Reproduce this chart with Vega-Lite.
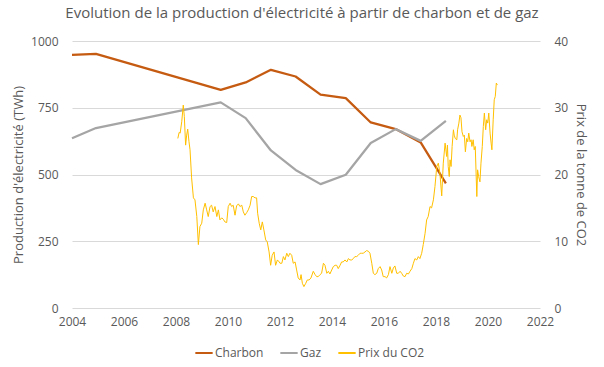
{
  "$schema": "https://vega.github.io/schema/vega-lite/v6.json",
  "autosize": {"type": "none"},
  "width": 468,
  "height": 267,
  "padding": {"left": 72, "top": 41, "right": 64, "bottom": 59},
  "background": "white",
  "title": {
    "text": "Evolution de la production d'électricité à partir de charbon et de gaz",
    "font": "Open Sans",
    "fontSize": 15,
    "fontWeight": "normal",
    "color": "#595959",
    "anchor": "middle",
    "offset": 14,
    "dx": -4
  },
  "config": {
    "view": {"stroke": null},
    "font": "Open Sans",
    "axis": {
      "labelFont": "Open Sans",
      "labelFontSize": 12,
      "labelColor": "#595959",
      "titleFont": "Open Sans",
      "titleFontSize": 13,
      "titleFontWeight": "normal",
      "titleColor": "#595959",
      "ticks": false,
      "domain": false,
      "gridColor": "#D9D9D9",
      "gridWidth": 1
    }
  },
  "datasets": {
    "production": [
      {"serie": "Charbon", "annee": 2004.0, "valeur": 948},
      {"serie": "Charbon", "annee": 2004.92, "valeur": 952},
      {"serie": "Charbon", "annee": 2009.72, "valeur": 817},
      {"serie": "Charbon", "annee": 2010.68, "valeur": 845},
      {"serie": "Charbon", "annee": 2011.65, "valeur": 892},
      {"serie": "Charbon", "annee": 2012.6, "valeur": 867},
      {"serie": "Charbon", "annee": 2013.56, "valeur": 799},
      {"serie": "Charbon", "annee": 2014.53, "valeur": 786},
      {"serie": "Charbon", "annee": 2015.49, "valeur": 695},
      {"serie": "Charbon", "annee": 2016.45, "valeur": 670},
      {"serie": "Charbon", "annee": 2017.41, "valeur": 620},
      {"serie": "Charbon", "annee": 2018.38, "valeur": 467},
      {"serie": "Gaz", "annee": 2004.0, "valeur": 636},
      {"serie": "Gaz", "annee": 2004.92, "valeur": 674},
      {"serie": "Gaz", "annee": 2009.72, "valeur": 770},
      {"serie": "Gaz", "annee": 2010.68, "valeur": 711},
      {"serie": "Gaz", "annee": 2011.65, "valeur": 590},
      {"serie": "Gaz", "annee": 2012.6, "valeur": 517},
      {"serie": "Gaz", "annee": 2013.56, "valeur": 464},
      {"serie": "Gaz", "annee": 2014.53, "valeur": 499},
      {"serie": "Gaz", "annee": 2015.49, "valeur": 618},
      {"serie": "Gaz", "annee": 2016.45, "valeur": 670},
      {"serie": "Gaz", "annee": 2017.41, "valeur": 626},
      {"serie": "Gaz", "annee": 2018.38, "valeur": 701}
    ],
    "co2": [
      {"serie": "Prix du CO2", "annee": 2008.07, "prix": 25.4},
      {"serie": "Prix du CO2", "annee": 2008.12, "prix": 26.3},
      {"serie": "Prix du CO2", "annee": 2008.16, "prix": 26.2},
      {"serie": "Prix du CO2", "annee": 2008.22, "prix": 27.9},
      {"serie": "Prix du CO2", "annee": 2008.28, "prix": 30.4},
      {"serie": "Prix du CO2", "annee": 2008.32, "prix": 28.7},
      {"serie": "Prix du CO2", "annee": 2008.37, "prix": 24.4},
      {"serie": "Prix du CO2", "annee": 2008.41, "prix": 25.9},
      {"serie": "Prix du CO2", "annee": 2008.45, "prix": 26.8},
      {"serie": "Prix du CO2", "annee": 2008.5, "prix": 24.9},
      {"serie": "Prix du CO2", "annee": 2008.54, "prix": 23.7},
      {"serie": "Prix du CO2", "annee": 2008.6, "prix": 19.5},
      {"serie": "Prix du CO2", "annee": 2008.67, "prix": 16.5},
      {"serie": "Prix du CO2", "annee": 2008.73, "prix": 16.2},
      {"serie": "Prix du CO2", "annee": 2008.8, "prix": 13.7},
      {"serie": "Prix du CO2", "annee": 2008.86, "prix": 9.5},
      {"serie": "Prix du CO2", "annee": 2008.92, "prix": 12.2},
      {"serie": "Prix du CO2", "annee": 2008.99, "prix": 12.7},
      {"serie": "Prix du CO2", "annee": 2009.05, "prix": 14.7},
      {"serie": "Prix du CO2", "annee": 2009.12, "prix": 15.7},
      {"serie": "Prix du CO2", "annee": 2009.18, "prix": 14.7},
      {"serie": "Prix du CO2", "annee": 2009.24, "prix": 13.7},
      {"serie": "Prix du CO2", "annee": 2009.31, "prix": 15.2},
      {"serie": "Prix du CO2", "annee": 2009.37, "prix": 15.4},
      {"serie": "Prix du CO2", "annee": 2009.43, "prix": 14.4},
      {"serie": "Prix du CO2", "annee": 2009.5, "prix": 15.2},
      {"serie": "Prix du CO2", "annee": 2009.57, "prix": 13.7},
      {"serie": "Prix du CO2", "annee": 2009.63, "prix": 14.7},
      {"serie": "Prix du CO2", "annee": 2009.69, "prix": 13.2},
      {"serie": "Prix du CO2", "annee": 2009.76, "prix": 13.5},
      {"serie": "Prix du CO2", "annee": 2009.82, "prix": 13.3},
      {"serie": "Prix du CO2", "annee": 2009.88, "prix": 12.9},
      {"serie": "Prix du CO2", "annee": 2009.95, "prix": 12.8},
      {"serie": "Prix du CO2", "annee": 2010.01, "prix": 15.2},
      {"serie": "Prix du CO2", "annee": 2010.08, "prix": 15.7},
      {"serie": "Prix du CO2", "annee": 2010.14, "prix": 15.2},
      {"serie": "Prix du CO2", "annee": 2010.2, "prix": 15.4},
      {"serie": "Prix du CO2", "annee": 2010.27, "prix": 13.9},
      {"serie": "Prix du CO2", "annee": 2010.33, "prix": 15.3},
      {"serie": "Prix du CO2", "annee": 2010.4, "prix": 15.6},
      {"serie": "Prix du CO2", "annee": 2010.46, "prix": 15.2},
      {"serie": "Prix du CO2", "annee": 2010.53, "prix": 15.4},
      {"serie": "Prix du CO2", "annee": 2010.59, "prix": 14.4},
      {"serie": "Prix du CO2", "annee": 2010.65, "prix": 13.9},
      {"serie": "Prix du CO2", "annee": 2010.72, "prix": 14.3},
      {"serie": "Prix du CO2", "annee": 2010.78, "prix": 14.7},
      {"serie": "Prix du CO2", "annee": 2010.85, "prix": 15.4},
      {"serie": "Prix du CO2", "annee": 2010.91, "prix": 16.7},
      {"serie": "Prix du CO2", "annee": 2010.97, "prix": 16.7},
      {"serie": "Prix du CO2", "annee": 2011.04, "prix": 16.5},
      {"serie": "Prix du CO2", "annee": 2011.1, "prix": 16.5},
      {"serie": "Prix du CO2", "annee": 2011.14, "prix": 14.2},
      {"serie": "Prix du CO2", "annee": 2011.2, "prix": 12.7},
      {"serie": "Prix du CO2", "annee": 2011.26, "prix": 11.7},
      {"serie": "Prix du CO2", "annee": 2011.32, "prix": 12.9},
      {"serie": "Prix du CO2", "annee": 2011.38, "prix": 11.7},
      {"serie": "Prix du CO2", "annee": 2011.45, "prix": 10.2},
      {"serie": "Prix du CO2", "annee": 2011.51, "prix": 9.9},
      {"serie": "Prix du CO2", "annee": 2011.58, "prix": 8.4},
      {"serie": "Prix du CO2", "annee": 2011.64, "prix": 6.4},
      {"serie": "Prix du CO2", "annee": 2011.7, "prix": 7.9},
      {"serie": "Prix du CO2", "annee": 2011.77, "prix": 8.4},
      {"serie": "Prix du CO2", "annee": 2011.83, "prix": 6.4},
      {"serie": "Prix du CO2", "annee": 2011.9, "prix": 7.2},
      {"serie": "Prix du CO2", "annee": 2011.97, "prix": 6.9},
      {"serie": "Prix du CO2", "annee": 2012.0, "prix": 6.7},
      {"serie": "Prix du CO2", "annee": 2012.07, "prix": 6.7},
      {"serie": "Prix du CO2", "annee": 2012.13, "prix": 7.7},
      {"serie": "Prix du CO2", "annee": 2012.19, "prix": 7.2},
      {"serie": "Prix du CO2", "annee": 2012.26, "prix": 8.2},
      {"serie": "Prix du CO2", "annee": 2012.32, "prix": 7.7},
      {"serie": "Prix du CO2", "annee": 2012.38, "prix": 8.2},
      {"serie": "Prix du CO2", "annee": 2012.45, "prix": 7.9},
      {"serie": "Prix du CO2", "annee": 2012.51, "prix": 6.7},
      {"serie": "Prix du CO2", "annee": 2012.58, "prix": 6.9},
      {"serie": "Prix du CO2", "annee": 2012.64, "prix": 5.7},
      {"serie": "Prix du CO2", "annee": 2012.7, "prix": 4.5},
      {"serie": "Prix du CO2", "annee": 2012.77, "prix": 4.2},
      {"serie": "Prix du CO2", "annee": 2012.81, "prix": 5.0},
      {"serie": "Prix du CO2", "annee": 2012.86, "prix": 3.7},
      {"serie": "Prix du CO2", "annee": 2012.92, "prix": 3.2},
      {"serie": "Prix du CO2", "annee": 2012.99, "prix": 3.7},
      {"serie": "Prix du CO2", "annee": 2013.05, "prix": 4.2},
      {"serie": "Prix du CO2", "annee": 2013.12, "prix": 4.2},
      {"serie": "Prix du CO2", "annee": 2013.19, "prix": 4.5},
      {"serie": "Prix du CO2", "annee": 2013.28, "prix": 5.5},
      {"serie": "Prix du CO2", "annee": 2013.35, "prix": 5.0},
      {"serie": "Prix du CO2", "annee": 2013.41, "prix": 4.7},
      {"serie": "Prix du CO2", "annee": 2013.47, "prix": 4.7},
      {"serie": "Prix du CO2", "annee": 2013.54, "prix": 5.0},
      {"serie": "Prix du CO2", "annee": 2013.6, "prix": 5.2},
      {"serie": "Prix du CO2", "annee": 2013.67, "prix": 6.7},
      {"serie": "Prix du CO2", "annee": 2013.73, "prix": 6.4},
      {"serie": "Prix du CO2", "annee": 2013.8, "prix": 5.2},
      {"serie": "Prix du CO2", "annee": 2013.86, "prix": 5.5},
      {"serie": "Prix du CO2", "annee": 2013.92, "prix": 5.1},
      {"serie": "Prix du CO2", "annee": 2013.99, "prix": 5.7},
      {"serie": "Prix du CO2", "annee": 2014.05, "prix": 6.2},
      {"serie": "Prix du CO2", "annee": 2014.12, "prix": 6.4},
      {"serie": "Prix du CO2", "annee": 2014.18, "prix": 6.4},
      {"serie": "Prix du CO2", "annee": 2014.24, "prix": 5.9},
      {"serie": "Prix du CO2", "annee": 2014.31, "prix": 6.4},
      {"serie": "Prix du CO2", "annee": 2014.37, "prix": 6.9},
      {"serie": "Prix du CO2", "annee": 2014.43, "prix": 6.9},
      {"serie": "Prix du CO2", "annee": 2014.5, "prix": 7.2},
      {"serie": "Prix du CO2", "annee": 2014.57, "prix": 6.9},
      {"serie": "Prix du CO2", "annee": 2014.63, "prix": 7.4},
      {"serie": "Prix du CO2", "annee": 2014.69, "prix": 7.2},
      {"serie": "Prix du CO2", "annee": 2014.76, "prix": 7.2},
      {"serie": "Prix du CO2", "annee": 2014.82, "prix": 7.4},
      {"serie": "Prix du CO2", "annee": 2014.88, "prix": 7.7},
      {"serie": "Prix du CO2", "annee": 2014.95, "prix": 7.7},
      {"serie": "Prix du CO2", "annee": 2015.01, "prix": 7.9},
      {"serie": "Prix du CO2", "annee": 2015.08, "prix": 8.2},
      {"serie": "Prix du CO2", "annee": 2015.14, "prix": 8.2},
      {"serie": "Prix du CO2", "annee": 2015.2, "prix": 8.2},
      {"serie": "Prix du CO2", "annee": 2015.27, "prix": 8.4},
      {"serie": "Prix du CO2", "annee": 2015.33, "prix": 8.6},
      {"serie": "Prix du CO2", "annee": 2015.4, "prix": 8.5},
      {"serie": "Prix du CO2", "annee": 2015.46, "prix": 8.2},
      {"serie": "Prix du CO2", "annee": 2015.53, "prix": 6.7},
      {"serie": "Prix du CO2", "annee": 2015.59, "prix": 5.2},
      {"serie": "Prix du CO2", "annee": 2015.65, "prix": 5.0},
      {"serie": "Prix du CO2", "annee": 2015.72, "prix": 5.2},
      {"serie": "Prix du CO2", "annee": 2015.78, "prix": 5.9},
      {"serie": "Prix du CO2", "annee": 2015.85, "prix": 6.2},
      {"serie": "Prix du CO2", "annee": 2015.91, "prix": 5.7},
      {"serie": "Prix du CO2", "annee": 2015.97, "prix": 4.7},
      {"serie": "Prix du CO2", "annee": 2016.04, "prix": 4.7},
      {"serie": "Prix du CO2", "annee": 2016.1, "prix": 4.5},
      {"serie": "Prix du CO2", "annee": 2016.17, "prix": 5.0},
      {"serie": "Prix du CO2", "annee": 2016.23, "prix": 6.2},
      {"serie": "Prix du CO2", "annee": 2016.3, "prix": 5.2},
      {"serie": "Prix du CO2", "annee": 2016.36, "prix": 6.0},
      {"serie": "Prix du CO2", "annee": 2016.42, "prix": 6.3},
      {"serie": "Prix du CO2", "annee": 2016.49, "prix": 5.2},
      {"serie": "Prix du CO2", "annee": 2016.55, "prix": 5.2},
      {"serie": "Prix du CO2", "annee": 2016.62, "prix": 5.5},
      {"serie": "Prix du CO2", "annee": 2016.68, "prix": 5.2},
      {"serie": "Prix du CO2", "annee": 2016.74, "prix": 4.8},
      {"serie": "Prix du CO2", "annee": 2016.81, "prix": 4.7},
      {"serie": "Prix du CO2", "annee": 2016.87, "prix": 5.2},
      {"serie": "Prix du CO2", "annee": 2016.94, "prix": 5.1},
      {"serie": "Prix du CO2", "annee": 2017.0, "prix": 5.5},
      {"serie": "Prix du CO2", "annee": 2017.07, "prix": 5.9},
      {"serie": "Prix du CO2", "annee": 2017.13, "prix": 6.7},
      {"serie": "Prix du CO2", "annee": 2017.19, "prix": 7.4},
      {"serie": "Prix du CO2", "annee": 2017.26, "prix": 7.2},
      {"serie": "Prix du CO2", "annee": 2017.32, "prix": 7.7},
      {"serie": "Prix du CO2", "annee": 2017.38, "prix": 7.4},
      {"serie": "Prix du CO2", "annee": 2017.45, "prix": 8.2},
      {"serie": "Prix du CO2", "annee": 2017.51, "prix": 9.5},
      {"serie": "Prix du CO2", "annee": 2017.58, "prix": 11.2},
      {"serie": "Prix du CO2", "annee": 2017.64, "prix": 13.2},
      {"serie": "Prix du CO2", "annee": 2017.7, "prix": 13.7},
      {"serie": "Prix du CO2", "annee": 2017.77, "prix": 15.2},
      {"serie": "Prix du CO2", "annee": 2017.83, "prix": 15.0},
      {"serie": "Prix du CO2", "annee": 2017.9, "prix": 16.2},
      {"serie": "Prix du CO2", "annee": 2017.96, "prix": 18.2},
      {"serie": "Prix du CO2", "annee": 2018.03, "prix": 21.2},
      {"serie": "Prix du CO2", "annee": 2018.09, "prix": 21.7},
      {"serie": "Prix du CO2", "annee": 2018.15, "prix": 20.2},
      {"serie": "Prix du CO2", "annee": 2018.22, "prix": 16.8},
      {"serie": "Prix du CO2", "annee": 2018.28, "prix": 21.7},
      {"serie": "Prix du CO2", "annee": 2018.35, "prix": 24.7},
      {"serie": "Prix du CO2", "annee": 2018.38, "prix": 23.7},
      {"serie": "Prix du CO2", "annee": 2018.41, "prix": 22.7},
      {"serie": "Prix du CO2", "annee": 2018.44, "prix": 24.4},
      {"serie": "Prix du CO2", "annee": 2018.47, "prix": 21.2},
      {"serie": "Prix du CO2", "annee": 2018.51, "prix": 19.7},
      {"serie": "Prix du CO2", "annee": 2018.54, "prix": 22.2},
      {"serie": "Prix du CO2", "annee": 2018.58, "prix": 21.2},
      {"serie": "Prix du CO2", "annee": 2018.62, "prix": 24.2},
      {"serie": "Prix du CO2", "annee": 2018.67, "prix": 26.7},
      {"serie": "Prix du CO2", "annee": 2018.7, "prix": 25.9},
      {"serie": "Prix du CO2", "annee": 2018.74, "prix": 25.4},
      {"serie": "Prix du CO2", "annee": 2018.8, "prix": 25.2},
      {"serie": "Prix du CO2", "annee": 2018.83, "prix": 26.7},
      {"serie": "Prix du CO2", "annee": 2018.88, "prix": 27.7},
      {"serie": "Prix du CO2", "annee": 2018.92, "prix": 28.9},
      {"serie": "Prix du CO2", "annee": 2018.96, "prix": 28.5},
      {"serie": "Prix du CO2", "annee": 2019.0, "prix": 26.4},
      {"serie": "Prix du CO2", "annee": 2019.05, "prix": 25.7},
      {"serie": "Prix du CO2", "annee": 2019.09, "prix": 25.9},
      {"serie": "Prix du CO2", "annee": 2019.13, "prix": 23.4},
      {"serie": "Prix du CO2", "annee": 2019.18, "prix": 25.4},
      {"serie": "Prix du CO2", "annee": 2019.22, "prix": 24.9},
      {"serie": "Prix du CO2", "annee": 2019.26, "prix": 26.2},
      {"serie": "Prix du CO2", "annee": 2019.31, "prix": 24.9},
      {"serie": "Prix du CO2", "annee": 2019.35, "prix": 25.2},
      {"serie": "Prix du CO2", "annee": 2019.38, "prix": 24.2},
      {"serie": "Prix du CO2", "annee": 2019.43, "prix": 25.2},
      {"serie": "Prix du CO2", "annee": 2019.47, "prix": 23.7},
      {"serie": "Prix du CO2", "annee": 2019.51, "prix": 24.2},
      {"serie": "Prix du CO2", "annee": 2019.57, "prix": 16.7},
      {"serie": "Prix du CO2", "annee": 2019.6, "prix": 20.7},
      {"serie": "Prix du CO2", "annee": 2019.64, "prix": 19.7},
      {"serie": "Prix du CO2", "annee": 2019.69, "prix": 18.9},
      {"serie": "Prix du CO2", "annee": 2019.73, "prix": 21.7},
      {"serie": "Prix du CO2", "annee": 2019.78, "prix": 24.2},
      {"serie": "Prix du CO2", "annee": 2019.82, "prix": 27.2},
      {"serie": "Prix du CO2", "annee": 2019.86, "prix": 29.2},
      {"serie": "Prix du CO2", "annee": 2019.91, "prix": 26.7},
      {"serie": "Prix du CO2", "annee": 2019.95, "prix": 28.2},
      {"serie": "Prix du CO2", "annee": 2019.99, "prix": 27.7},
      {"serie": "Prix du CO2", "annee": 2020.03, "prix": 29.2},
      {"serie": "Prix du CO2", "annee": 2020.08, "prix": 26.2},
      {"serie": "Prix du CO2", "annee": 2020.12, "prix": 24.7},
      {"serie": "Prix du CO2", "annee": 2020.15, "prix": 23.7},
      {"serie": "Prix du CO2", "annee": 2020.2, "prix": 28.2},
      {"serie": "Prix du CO2", "annee": 2020.24, "prix": 31.2},
      {"serie": "Prix du CO2", "annee": 2020.28, "prix": 31.7},
      {"serie": "Prix du CO2", "annee": 2020.32, "prix": 33.7},
      {"serie": "Prix du CO2", "annee": 2020.36, "prix": 33.4}
    ]
  },
  "layer": [
    {
      "data": {"name": "production"},
      "mark": {"type": "line", "strokeWidth": 2.25, "strokeJoin": "round"},
      "encoding": {
        "x": {
          "field": "annee",
          "type": "quantitative",
          "scale": {"domain": [2004, 2022], "nice": false, "zero": false},
          "axis": {
            "title": null,
            "values": [2004, 2006, 2008, 2010, 2012, 2014, 2016, 2018, 2020, 2022],
            "format": "d",
            "grid": false,
            "labelPadding": 8,
            "labelFlush": false
          }
        },
        "y": {
          "field": "valeur",
          "type": "quantitative",
          "scale": {"domain": [0, 1000], "nice": false},
          "axis": {
            "title": "Production d'électricité (TWh)",
            "values": [0, 250, 500, 750, 1000],
            "format": "d",
            "grid": true,
            "labelPadding": 14,
            "titlePadding": 5
          }
        },
        "color": {
          "field": "serie",
          "type": "nominal",
          "scale": {
            "domain": ["Charbon", "Gaz", "Prix du CO2"],
            "range": ["#C55A11", "#A5A5A5", "#FFC000"]
          },
          "legend": {
            "title": null,
            "orient": "none",
            "direction": "horizontal",
            "legendX": 122,
            "legendY": 302,
            "symbolType": "stroke",
            "symbolSize": 300,
            "symbolStrokeWidth": 2,
            "symbolOffset": 0,
            "labelFont": "Open Sans",
            "labelFontSize": 12,
            "labelColor": "#595959",
            "columnPadding": 12,
            "labelOffset": 1
          }
        }
      }
    },
    {
      "data": {"name": "co2"},
      "mark": {"type": "line", "strokeWidth": 1, "strokeJoin": "round"},
      "encoding": {
        "x": {"field": "annee", "type": "quantitative"},
        "y": {
          "field": "prix",
          "type": "quantitative",
          "scale": {"domain": [0, 40], "nice": false},
          "axis": {
            "orient": "right",
            "title": "Prix de la tonne de CO2",
            "values": [0, 10, 20, 30, 40],
            "format": "d",
            "grid": false,
            "labelPadding": 14,
            "titlePadding": 6
          }
        },
        "color": {"field": "serie", "type": "nominal"}
      }
    }
  ],
  "resolve": {"scale": {"y": "independent"}}
}
